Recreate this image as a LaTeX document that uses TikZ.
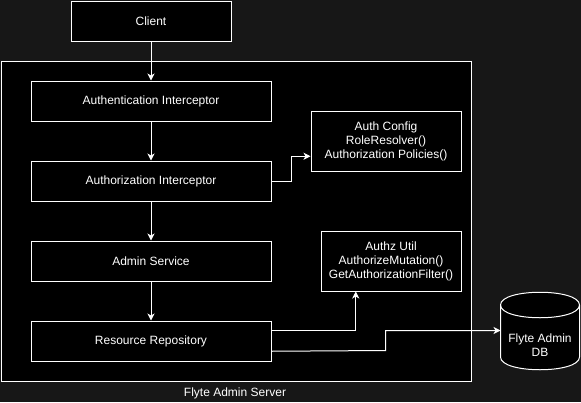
\documentclass[tikz,border=0pt]{standalone}
\usepackage{fontspec}
\setmainfont{Liberation Sans}
\usetikzlibrary{arrows.meta,calc}
\definecolor{bg}{HTML}{171717}
\begin{document}
\begin{tikzpicture}[x=1pt,y=-1pt,
  box/.style={draw=white,fill=black,line width=1pt,text=white,align=center,
    font=\fontsize{12}{14}\selectfont,inner sep=0pt},
  conn/.style={draw=white,line width=1pt,-{Stealth[length=7pt,width=7pt,inset=2pt]}},
  lbl/.style={text=white,font=\fontsize{12}{14}\selectfont,inner sep=0pt}]
\fill[bg] (0,0) rectangle (581,402);
\useasboundingbox (0,0) rectangle (581,402);
% server frame
\node[box,minimum width=470pt,minimum height=320pt,anchor=north west] (srv) at (0.5,60.5) {};
\node[lbl] (srvlbl) at (235,393) {Flyte Admin Server};
% nodes
\node[box,minimum width=160pt,minimum height=40pt,anchor=north west] (client) at (70.5,0.5) {Client};
\node[box,minimum width=240pt,minimum height=40pt,anchor=north west] (authn) at (30.5,80.5) {Authentication Interceptor};
\node[box,minimum width=240pt,minimum height=40pt,anchor=north west] (authz) at (30.5,160.5) {Authorization Interceptor};
\node[box,minimum width=240pt,minimum height=40pt,anchor=north west] (admin) at (30.5,240.5) {Admin Service};
\node[box,minimum width=240pt,minimum height=40pt,anchor=north west] (repo) at (30.5,320.5) {Resource Repository};
\node[box,minimum width=150pt,minimum height=60pt,anchor=north west] (cfg) at (310.5,110.5) {Auth Config\\RoleResolver()\\Authorization Policies()};
\node[box,minimum width=140pt,minimum height=60pt,anchor=north west] (util) at (320.5,230.5) {Authz Util\\AuthorizeMutation()\\GetAuthorizationFilter()};
% cylinder DB
\coordinate (dbw) at (500.5,330.5);
\draw[white,fill=black,line width=1pt]
  (500.5,305) .. controls (500.5,288) and (579.5,288) .. (579.5,305)
  -- (579.5,357) .. controls (579.5,374) and (500.5,374) .. (500.5,357) -- cycle;
\draw[white,line width=1pt] (500.5,305) .. controls (500.5,322) and (579.5,322) .. (579.5,305);
\node[lbl,align=center] (db) at (540,345) {Flyte Admin\\DB};
% connectors
\draw[conn] (client.south) -- (authn.north);
\draw[conn] (authn.south) -- (authz.north);
\draw[conn] (authz.south) -- (admin.north);
\draw[conn] (admin.south) -- (repo.north);
\coordinate (cfgin) at ($(cfg.north west)!0.75!(cfg.south west)$);
\draw[conn] (authz.east) -- ++(20,0) |- (cfgin);
\coordinate (r1) at ($(repo.north east)!0.25!(repo.south east)$);
\coordinate (r2) at ($(repo.north east)!0.75!(repo.south east)$);
\coordinate (utilin) at ($(util.south west)!0.25!(util.south east)$);
\draw[conn] (r1) -| (utilin);
\draw[conn] (r2) -- (385.5,350.5) |- (dbw);
\end{tikzpicture}
\end{document}
